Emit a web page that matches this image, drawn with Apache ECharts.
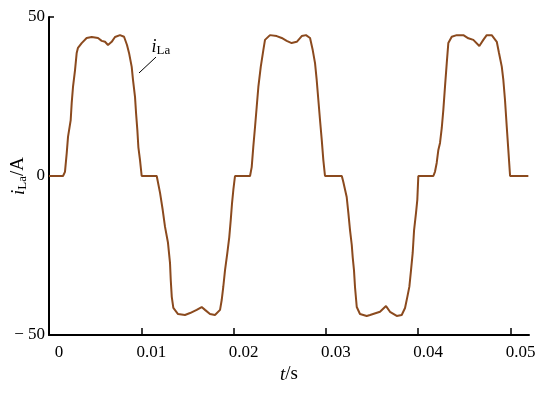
<!DOCTYPE html>
<html>
<head>
<meta charset="utf-8">
<script src="https://cdn.jsdelivr.net/npm/echarts@6/dist/echarts.min.js"></script>
<style>html,body{margin:0;padding:0;background:#fff;}#c{width:550px;height:393px;}</style>
</head>
<body>
<div id="c"></div>
<script>
// time (s)
var tValues = [0, 0.00152, 0.00173, 0.00192, 0.00206, 0.00235, 0.00246, 0.0026, 0.00282, 0.003, 0.00314, 0.00354, 0.00408, 0.00463, 0.00531, 0.00571, 0.00607, 0.00639, 0.00679, 0.00715, 0.00769, 0.00813, 0.00845, 0.00867, 0.00896, 0.0091, 0.00932, 0.00943, 0.00957, 0.00968, 0.00986, 0.01004,
  0.01167, 0.01181, 0.01203, 0.01232, 0.01257, 0.01289, 0.01311, 0.01319, 0.0133, 0.01347, 0.01398, 0.01473, 0.01528, 0.016, 0.01654, 0.0169, 0.01744, 0.01798, 0.01853, 0.01871, 0.01888, 0.01907, 0.01932, 0.01953, 0.01969, 0.01983, 0.01997, 0.02015,
  0.02178, 0.02196, 0.02213, 0.02232, 0.0225, 0.02268, 0.02294, 0.02322, 0.0234, 0.02394, 0.02467, 0.02521, 0.02575, 0.02629, 0.02684, 0.02738, 0.02784, 0.02828, 0.02857, 0.02882, 0.029, 0.02918, 0.02936, 0.02955, 0.02972, 0.0299,
  0.03172, 0.03188, 0.03225, 0.03243, 0.03261, 0.0328, 0.0329, 0.03304, 0.03315, 0.03334, 0.03369, 0.03442, 0.03478, 0.03586, 0.03651, 0.03694, 0.03767, 0.03821, 0.03857, 0.03882, 0.03904, 0.03922, 0.0394, 0.03955, 0.03976, 0.0399, 0.04001,
  0.04164, 0.04182, 0.042, 0.04218, 0.04236, 0.04255, 0.04272, 0.0429, 0.04309, 0.04326, 0.04363, 0.04417, 0.04489, 0.04543, 0.04597, 0.04662, 0.04705, 0.04742, 0.04796, 0.04851, 0.04875, 0.04905, 0.04922, 0.0494, 0.04959, 0.04976, 0.04995, 0.05193];
// current iLa (A)
var iValues = [0, 0, 1.3, 7.2, 12.3, 17.6, 23, 28, 33.3, 38.7, 40.3, 41.8, 43.4, 43.7, 43.4, 42.5, 42.2, 41.2, 42.2, 43.7, 44.3, 43.8, 41.2, 38.7, 34.3, 30.2, 24.8, 19.8, 14.5, 9.1, 5, 0,
  0, -0.6, -5.3, -10.7, -16, -21, -27.4, -32.7, -38, -41.5, -43.4, -43.7, -43.1, -42.1, -41.2, -42.1, -43.4, -43.7, -42.1, -39, -34.9, -29.6, -24.2, -19.2, -13.8, -8.5, -4.4, 0,
  0, 2.8, 9.1, 15.4, 21.7, 28, 34.3, 39.6, 42.8, 44.3, 44, 43.4, 42.5, 41.8, 42.2, 44, 44.3, 43.4, 39.6, 35.5, 30.2, 23.9, 17.6, 11.3, 5, 0,
  0, -1.8, -6.6, -11.6, -17, -21.7, -25.5, -29.6, -34.9, -41.2, -43.4, -44, -43.7, -42.7, -40.9, -42.7, -44, -43.7, -41.5, -38, -34.8, -29.6, -24.2, -17, -11.6, -7.5, 0,
  0, 1.4, 4.1, 8.2, 10.4, 15.1, 20.8, 28.1, 35.5, 41.8, 43.8, 44.3, 44.3, 43.3, 42.8, 40.9, 42.8, 44.3, 44.3, 42.2, 38.7, 34.4, 30.2, 23.9, 15.5, 8.2, 0, 0];
var xTickLabels = {0: '0', 0.01: '0.01', 0.02: '0.02', 0.03: '0.03', 0.04: '0.04', 0.05: '0.05'};
var yTickLabels = {'-50': '\u2212 50', '0': '0', '50': '50'};

var seriesData = tValues.map(function (t, k) { return [t, iValues[k]]; });
var FONT = 'Liberation Serif';

var chart = echarts.init(document.getElementById('c'), null, {renderer: 'canvas'});
chart.setOption({
  animation: false,
  backgroundColor: '#fff',
  grid: {left: 49, right: 21, top: 17, bottom: 58, containLabel: false, outerBoundsMode: 'none'},
  xAxis: {
    type: 'value', min: 0, max: 0.052, interval: 0.01,
    name: '{i|t}{n|/s}', nameLocation: 'middle', nameGap: 30, nameMoveOverlap: false,
    nameTextStyle: {rich: {
      i: {fontFamily: FONT, fontStyle: 'italic', fontSize: 19, color: '#000'},
      n: {fontFamily: FONT, fontSize: 19, color: '#000'}
    }},
    axisLine: {show: true, onZero: false, lineStyle: {color: '#000', width: 2}},
    axisTick: {show: true, inside: true, length: 7, lineStyle: {color: '#000', width: 1.5}},
    axisLabel: {
      fontFamily: FONT, fontSize: 17, color: '#000', margin: 9,
      padding: [0, 0, 0, 20], showMaxLabel: false,
      formatter: function (v) { var k = Math.round(v * 100) / 100; return xTickLabels[k] !== undefined ? xTickLabels[k] : ''; }
    },
    splitLine: {show: false}
  },
  yAxis: {
    type: 'value', min: -50, max: 50, interval: 50,
    name: '{i|i}{s|La}{n|/A}', nameLocation: 'middle', nameGap: 20, nameRotate: 90, nameMoveOverlap: false,
    nameTextStyle: {rich: {
      i: {fontFamily: FONT, fontStyle: 'italic', fontSize: 19, color: '#000'},
      s: {fontFamily: FONT, fontSize: 13, color: '#000', padding: [8, 0, 0, 0]},
      n: {fontFamily: FONT, fontSize: 19, color: '#000'}
    }},
    axisLine: {show: true, onZero: false, lineStyle: {color: '#000', width: 2}},
    axisTick: {show: true, inside: true, length: 5, lineStyle: {color: '#000', width: 1.5}},
    axisLabel: {
      fontFamily: FONT, fontSize: 17, color: '#000', margin: 4,
      formatter: function (v) { return yTickLabels[String(v)] || ''; }
    },
    splitLine: {show: false}
  },
  series: [{
    type: 'line',
    data: seriesData,
    showSymbol: false,
    symbol: 'none',
    lineStyle: {color: '#8b4a1e', width: 2},
    markLine: {
      silent: true, symbol: 'none',
      lineStyle: {color: '#000', width: 1, type: 'solid'},
      label: {show: false},
      data: [[{coord: [0.00975, 32.4]}, {coord: [0.01159, 37.4]}]]
    },
    markPoint: {
      silent: true, symbol: 'circle', symbolSize: 0,
      data: [{coord: [0.01213, 40.4]}],
      label: {
        show: true, position: 'inside',
        formatter: '{i|i}{s|La}',
        rich: {
          i: {fontFamily: FONT, fontStyle: 'italic', fontSize: 18, color: '#000'},
          s: {fontFamily: FONT, fontSize: 13, color: '#000', padding: [7, 0, 0, 0]}
        }
      }
    }
  }]
});
</script>
</body>
</html>
